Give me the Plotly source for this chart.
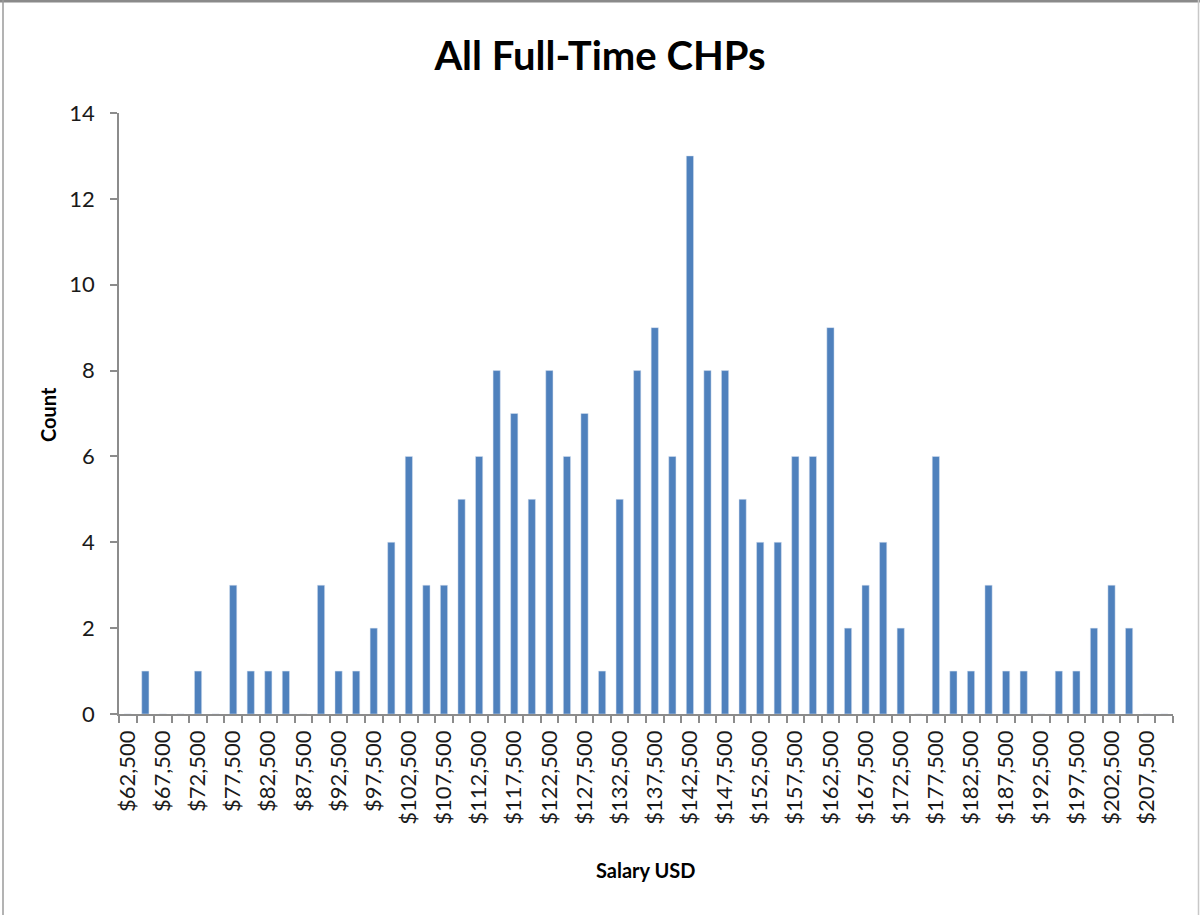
import plotly.graph_objects as go

# Salary bin values (USD), one per category
salary_bins = [
    62500, 65000, 67500, 70000, 72500, 75000, 77500, 80000, 82500, 85000,
    87500, 90000, 92500, 95000, 97500, 100000, 102500, 105000, 107500, 110000,
    112500, 115000, 117500, 120000, 122500, 125000, 127500, 130000, 132500, 135000,
    137500, 140000, 142500, 145000, 147500, 150000, 152500, 155000, 157500, 160000,
    162500, 165000, 167500, 170000, 172500, 175000, 177500, 180000, 182500, 185000,
    187500, 190000, 192500, 195000, 197500, 200000, 202500, 205000, 207500, 210000,
]
# Counts per bin
counts = [
    0, 1, 0, 0, 1, 0, 3, 1, 1, 1,
    0, 3, 1, 1, 2, 4, 6, 3, 3, 5,
    6, 8, 7, 5, 8, 6, 7, 1, 5, 8,
    9, 6, 13, 8, 8, 5, 4, 4, 6, 6,
    9, 2, 3, 4, 2, 0, 6, 1, 1, 3,
    1, 1, 0, 1, 1, 2, 3, 2, 0, 0,
]
# Labelled ticks (every other bin)
tick_values = salary_bins[::2]
tick_labels = ["${:,}".format(v) for v in tick_values]

W, H = 1200, 915
ML, MR, MT, MB = 119, 27, 113, 201
PW, PH = W - ML - MR, H - MT - MB

def px_x(px):
    return (px - ML) / PW

def px_y(py):
    return (H - MB - py) / PH

step = salary_bins[1] - salary_bins[0]
boundaries = [b - step / 2 for b in salary_bins] + [salary_bins[-1] + step / 2]

FONT = "Lato"

fig = go.Figure(
    go.Bar(
        x=salary_bins,
        y=counts,
        width=step * 0.41,
        marker=dict(color="#4F81BD", line=dict(color="#D9E3F0", width=0.5)),
        hoverinfo="x+y",
    )
)

fig.update_layout(
    width=W,
    height=H,
    margin=dict(l=ML, r=MR, t=MT, b=MB),
    paper_bgcolor="white",
    plot_bgcolor="white",
    showlegend=False,
    title=dict(
        text="<b>All Full-Time CHPs</b>",
        x=0.5,
        xanchor="center",
        y=1 - 56 / H,
        yanchor="middle",
        font=dict(family=FONT, size=40, color="black"),
    ),
    font=dict(family=FONT, color="#1a1a1a"),
)

fig.update_xaxes(
    range=[boundaries[0], boundaries[-1]],
    tickmode="array",
    tickvals=tick_values,
    ticktext=tick_labels,
    tickangle=-90,
    ticks="",
    tickfont=dict(family=FONT, size=22, color="#1a1a1a"),
    showline=True,
    linecolor="#8C8C8C",
    linewidth=1.5,
    showgrid=False,
    zeroline=False,
    ticklabelstandoff=6,
    minor=dict(
        tickmode="array",
        tickvals=boundaries,
        ticks="outside",
        ticklen=7,
        tickcolor="#8C8C8C",
        tickwidth=1.5,
        showgrid=False,
    ),
)

fig.update_yaxes(
    range=[0, 14],
    tickmode="linear",
    tick0=0,
    dtick=2,
    ticks="outside",
    ticklen=7,
    tickcolor="#8C8C8C",
    tickwidth=1.5,
    tickfont=dict(family=FONT, size=22, color="#1a1a1a"),
    showline=True,
    linecolor="#8C8C8C",
    linewidth=1.5,
    showgrid=False,
    zeroline=False,
    ticklabelstandoff=11,
)

fig.add_annotation(
    text="<b>Salary USD</b>",
    xref="paper", yref="paper",
    x=px_x(646), y=px_y(870),
    xanchor="center", yanchor="middle",
    showarrow=False,
    font=dict(family=FONT, size=20, color="black"),
)
fig.add_annotation(
    text="<b>Count</b>",
    xref="paper", yref="paper",
    x=px_x(48), y=px_y(415),
    xanchor="center", yanchor="middle",
    textangle=-90,
    showarrow=False,
    font=dict(family=FONT, size=20, color="black"),
)

# Chart frame (outer border lines)
fig.add_shape(type="line", xref="paper", yref="paper",
              x0=px_x(0), x1=px_x(W), y0=px_y(1), y1=px_y(1),
              line=dict(color="#8A8A8A", width=3))
fig.add_shape(type="line", xref="paper", yref="paper",
              x0=px_x(3), x1=px_x(3), y0=px_y(0), y1=px_y(H),
              line=dict(color="#9A9A9A", width=1.5))
fig.add_shape(type="line", xref="paper", yref="paper",
              x0=px_x(1198.5), x1=px_x(1198.5), y0=px_y(0), y1=px_y(H),
              line=dict(color="#C8C8C8", width=1.5))

fig.write_html(
    "out.html",
    config={"displayModeBar": False},
    post_script="document.body.style.margin='0px';document.body.style.overflow='hidden';",
)
